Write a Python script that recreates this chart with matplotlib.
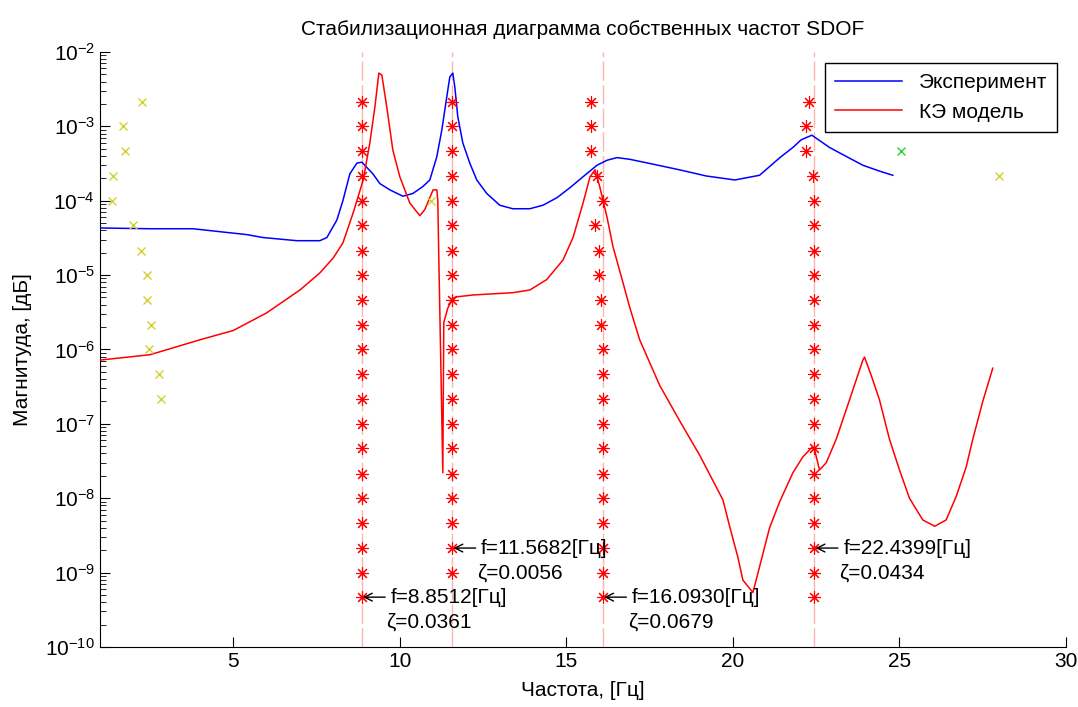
import numpy as np
import matplotlib
matplotlib.use('Agg')
import matplotlib.pyplot as plt
from matplotlib.ticker import FuncFormatter, LogLocator, NullFormatter

plt.rcParams['font.family'] = ['Liberation Sans', 'DejaVu Sans']
plt.rcParams['mathtext.fontset'] = 'custom'
plt.rcParams['mathtext.rm'] = 'Liberation Sans'
plt.rcParams['axes.unicode_minus'] = False

# measured response (blue)
exp_f = [1.0, 2.5, 3.79, 5.41, 5.89, 6.91, 7.6, 7.81, 8.11, 8.29, 8.5, 8.71, 8.86, 9.01,
         9.19, 9.4, 9.7, 10.09, 10.39, 10.69, 10.9, 11.11, 11.26, 11.41, 11.5, 11.59, 11.65,
         11.74, 11.89, 12.1, 12.31, 12.61, 13.0, 13.39, 13.9, 14.3, 14.72, 15.11, 15.5, 15.92,
         16.22, 16.52, 16.91, 17.6, 18.4, 19.2, 20.06, 20.8, 21.41, 21.8, 22.05, 22.37, 22.9,
         23.42, 23.9, 24.4, 24.8]
exp_a = [4.3e-5, 4.2e-5, 4.2e-5, 3.5e-5, 3.2e-5, 2.9e-5, 2.9e-5, 3.2e-5, 5.5e-5, 1.0e-4,
         2.3e-4, 3.2e-4, 3.3e-4, 2.8e-4, 2.3e-4, 1.7e-4, 1.4e-4, 1.15e-4, 1.25e-4, 1.55e-4,
         1.9e-4, 3.9e-4, 8.9e-4, 2.5e-3, 4.6e-3, 5.2e-3, 3.4e-3, 1.35e-3, 6.0e-4, 3.2e-4,
         1.9e-4, 1.25e-4, 8.7e-5, 7.8e-5, 7.8e-5, 8.7e-5, 1.1e-4, 1.5e-4, 2.1e-4, 3.0e-4,
         3.5e-4, 3.8e-4, 3.6e-4, 3.1e-4, 2.6e-4, 2.15e-4, 1.9e-4, 2.2e-4, 3.8e-4, 5.2e-4,
         6.6e-4, 7.6e-4, 5.2e-4, 3.9e-4, 3.0e-4, 2.5e-4, 2.2e-4]

# FE model response (red)
fem_f = [1.0, 2.5, 4.0, 5.0, 6.0, 7.0, 7.6, 8.0, 8.29, 8.6, 8.9, 9.1, 9.25, 9.37, 9.46,
         9.61, 9.79, 10.0, 10.3, 10.6, 10.75, 10.9, 11.0, 11.11, 11.14, 11.17, 11.23, 11.29,
         11.32, 11.44, 11.59, 11.71, 12.19, 13.39, 13.9, 14.41, 14.9, 15.2, 15.5, 15.71, 15.86,
         16.0, 16.22, 16.4, 16.7, 16.9, 17.2, 17.8, 18.4, 19.0, 19.7, 19.9, 20.15, 20.3, 20.6,
         20.8, 21.1, 21.4, 21.8, 22.1, 22.37, 22.45, 22.6, 22.8, 23.1, 23.5, 23.9, 23.95,
         24.15, 24.4, 24.7, 25.0, 25.3, 25.7, 26.06, 26.4, 26.7, 27.0, 27.2, 27.5, 27.8]
fem_a = [7.2e-7, 8.5e-7, 1.35e-6, 1.8e-6, 3.1e-6, 6.3e-6, 1.07e-5, 1.7e-5, 2.7e-5, 6.9e-5,
         1.9e-4, 6.0e-4, 1.8e-3, 5.2e-3, 4.9e-3, 1.8e-3, 4.8e-4, 2.1e-4, 9.3e-5, 6.3e-5,
         7.6e-5, 1.1e-4, 1.4e-4, 1.4e-4, 1.0e-4, 1.7e-5, 6.6e-7, 2.2e-8, 2.3e-6, 3.6e-6,
         4.9e-6, 5.1e-6, 5.4e-6, 5.8e-6, 6.3e-6, 8.7e-6, 1.6e-5, 3.2e-5, 9.3e-5, 2.1e-4,
         2.6e-4, 1.55e-4, 6.0e-5, 2.4e-5, 7.9e-6, 3.7e-6, 1.35e-6, 3.3e-7, 1.1e-7, 3.8e-8,
         9.5e-9, 4.2e-9, 1.6e-9, 7.9e-10, 5.4e-10, 1.2e-9, 4.0e-9, 8.9e-9, 2.2e-8, 3.6e-8,
         4.8e-8, 4.5e-8, 2.4e-8, 3.0e-8, 6.2e-8, 2.1e-7, 7.2e-7, 7.9e-7, 4.5e-7, 2.1e-7,
         6.2e-8, 2.4e-8, 1.0e-8, 5.1e-9, 4.2e-9, 5.1e-9, 1.05e-8, 2.6e-8, 6.2e-8, 2.0e-7,
         5.6e-7]

# model order rows of the stabilisation diagram (log10 level)
row_exp = [-2.67, -3.0, -3.33, -3.67, -4.0, -4.33, -4.67, -5.0, -5.33, -5.67, -6.0,
           -6.33, -6.67, -7.0, -7.33, -7.67, -8.0, -8.33, -8.67, -9.0, -9.33]

# identified modes
mode_f = [8.8512, 11.5682, 16.0930, 22.4399]
mode_zeta = [0.0361, 0.0056, 0.0679, 0.0434]
label_row = [20, 18, 20, 18]

# stable poles per row for each mode (None = no pole)
stable1 = [8.85] * 21
stable2 = [11.57] * 20 + [None]
stable3 = [15.74, 15.74, 15.74, 15.92, 16.10, 15.86, 15.98, 15.98, 16.04, 16.04] + [16.09] * 11
stable4 = [22.29, 22.19, 22.19, 22.41] + [22.44] * 17

# unstable poles: (frequency, row)
unst_f = [2.26, 1.69, 1.75, 1.39, 1.36, 1.99, 2.23, 2.41, 2.41, 2.53, 2.47, 2.77, 2.83,
          10.93, 27.98]
unst_row = [0, 1, 2, 3, 4, 5, 6, 7, 8, 9, 10, 11, 12, 4, 3]
green_f = [25.04]
green_row = [2]

rows = [10.0 ** e for e in row_exp]

fig = plt.figure(figsize=(10.78, 7.07), dpi=100)
ax = fig.add_axes([0.0928, 0.0849, 0.8961, 0.8416])

for f in mode_f:
    ax.axvline(f, color='#ffb4b4', lw=1.0, ls=(0, (14, 3)), zorder=1)

ax.plot(exp_f, exp_a, color='blue', lw=1.1, label='Эксперимент', zorder=3)
ax.plot(fem_f, fem_a, color='red', lw=1.1, label='КЭ модель', zorder=3)

for col in [stable1, stable2, stable3, stable4]:
    xs = [c for c in col if c is not None]
    ys = [r for c, r in zip(col, rows) if c is not None]
    ax.plot(xs, ys, ls='none', marker=(8, 2, 0), ms=9, mew=0.8, color='red', zorder=4)

ax.plot(unst_f, [rows[i] for i in unst_row], ls='none', marker='x', ms=6, mew=1.0,
        color='#d2d232', zorder=4)
ax.plot(green_f, [rows[i] for i in green_row], ls='none', marker='x', ms=6, mew=1.0,
        color='#33cc33', zorder=4)

for f, z, r in zip(mode_f, mode_zeta, label_row):
    ax.annotate('f=%.4f[Гц]' % f, xy=(f, rows[r]), xytext=(21, 0), textcoords='offset points',
                fontsize=15, va='center', ha='left', zorder=5,
                arrowprops=dict(arrowstyle='->', color='black', lw=1.0, relpos=(0, 0.5),
                                shrinkA=2, shrinkB=1, mutation_scale=14))
    ax.annotate('ζ=%.4f' % z, xy=(f, rows[r]), xytext=(18, -18), textcoords='offset points',
                fontsize=15, va='center', ha='left', zorder=5)

ax.set_yscale('log')
ax.set_xlim(1, 30)
ax.set_ylim(1e-10, 1e-2)
ax.set_xticks([5, 10, 15, 20, 25, 30])
ax.yaxis.set_major_locator(LogLocator(base=10, numticks=20))
ax.yaxis.set_minor_locator(LogLocator(base=10, subs=np.arange(2, 10), numticks=20))
ax.yaxis.set_minor_formatter(NullFormatter())
ax.yaxis.set_major_formatter(FuncFormatter(lambda v, p: '$\\mathregular{10^{%d}}$' % round(np.log10(v))))

for s in ['top', 'right']:
    ax.spines[s].set_visible(False)
ax.tick_params(which='both', direction='in', top=False, right=False, labelsize=15)
ax.tick_params(which='major', length=7)
ax.tick_params(which='minor', length=4)

ax.set_title('Стабилизационная диаграмма собственных частот SDOF', fontsize=15, pad=12)
ax.set_xlabel('Частота, [Гц]', fontsize=15)
ax.set_ylabel('Магнитуда, [дБ]', fontsize=15)
ax.xaxis.set_label_coords(0.5, -0.058)
ax.yaxis.set_label_coords(-0.07, 0.5)

ax.legend(loc='upper right', bbox_to_anchor=(0.991, 0.982), borderaxespad=0, fontsize=15,
          fancybox=False, edgecolor='black', framealpha=1, handlelength=3.2,
          labelspacing=0.5, borderpad=0.5)

fig.savefig('out.png', dpi=100)
